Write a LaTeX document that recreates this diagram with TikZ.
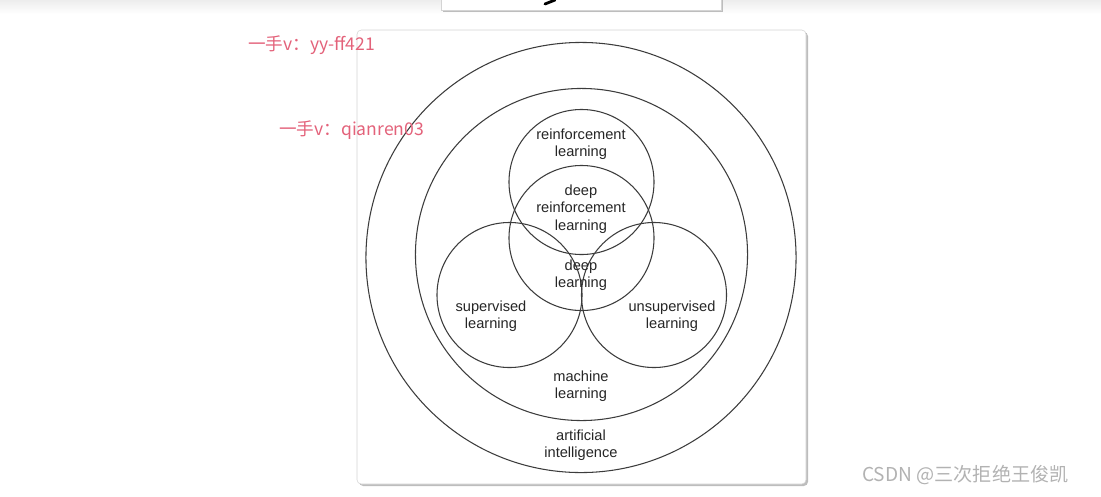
\documentclass[tikz,border=0pt]{standalone}
\usepackage{fontspec}
\setmainfont{Liberation Sans}
\newfontfamily\cjkfont{Noto Sans CJK SC}
\usetikzlibrary{positioning}
\definecolor{ink}{HTML}{262626}
\definecolor{edge}{HTML}{3C3C3C}
\definecolor{cardline}{HTML}{D4D4D4}
\definecolor{cardshade}{HTML}{BDBDBD}
\definecolor{markred}{HTML}{E3627A}
\definecolor{markgrey}{HTML}{B2B2B2}

\begin{document}
\begin{tikzpicture}[
  x=0.025cm, y=-0.025cm,
  ring/.style={draw=edge, line width=0.75pt, circle, inner sep=0pt},
  field/.style={ring, minimum size=3.625cm},
  lbl/.style={align=center, text=ink, font=\fontsize{10.4}{12.4}\selectfont, inner sep=0pt},
  watermark/.style={text=markred, font=\cjkfont\fontsize{12.5}{14}\selectfont, anchor=west, inner sep=0pt},
]
\useasboundingbox (0,0) rectangle (1101,496);
\shade[top color=black!7, bottom color=white] (0,0) rectangle (1101,14);

% cards
\fill[cardshade] (443,-6) rectangle (723,12);
\draw[cardline, fill=white] (441,-8) rectangle (721,10.5);
\draw[line width=2pt, line cap=round] (545,4) -- (555,0);
\fill[cardshade, rounded corners=3pt] (359,32) rectangle (808,486);
\draw[cardline, fill=white, rounded corners=3pt] (357,30) rectangle (806,484);

% circles
\node[ring, minimum size=10.75cm] (ai) at (581,257.5) {};
\node[ring, minimum size=8.3cm] (ml) at (581.5,254.5) {};
\node[field] (rl) at (581.5,182) {};
\node[field] (dl) at (581.5,238) {};
\node[field] (sl) at (509.5,295) {};
\node[field] (ul) at (654,295) {};

% labels
\node[lbl] (rltext) at (581,144) {reinforcement\\learning};
\node[lbl] (drltext) at (581,209) {deep\\reinforcement\\learning};
\node[lbl] (dltext) at (581,275) {deep\\learning};
\node[lbl] (sltext) at (491,316) {supervised\\learning};
\node[lbl] (ultext) at (672,316) {unsupervised\\learning};
\node[lbl] (mltext) at (581,386) {machine\\learning};
\node[lbl] (aitext) at (581,445) {artificial\\intelligence};

% watermarks
\node[watermark] (mark1) at (248,45) {一手v：yy-ff421};
\node[watermark] (mark2) at (279,130) {一手v：qianren03};
\node[watermark, text=markgrey, font=\cjkfont\fontsize{13.6}{15}\selectfont] (csdn) at (862,475) {CSDN @三次拒绝王俊凯};
\end{tikzpicture}
\end{document}
